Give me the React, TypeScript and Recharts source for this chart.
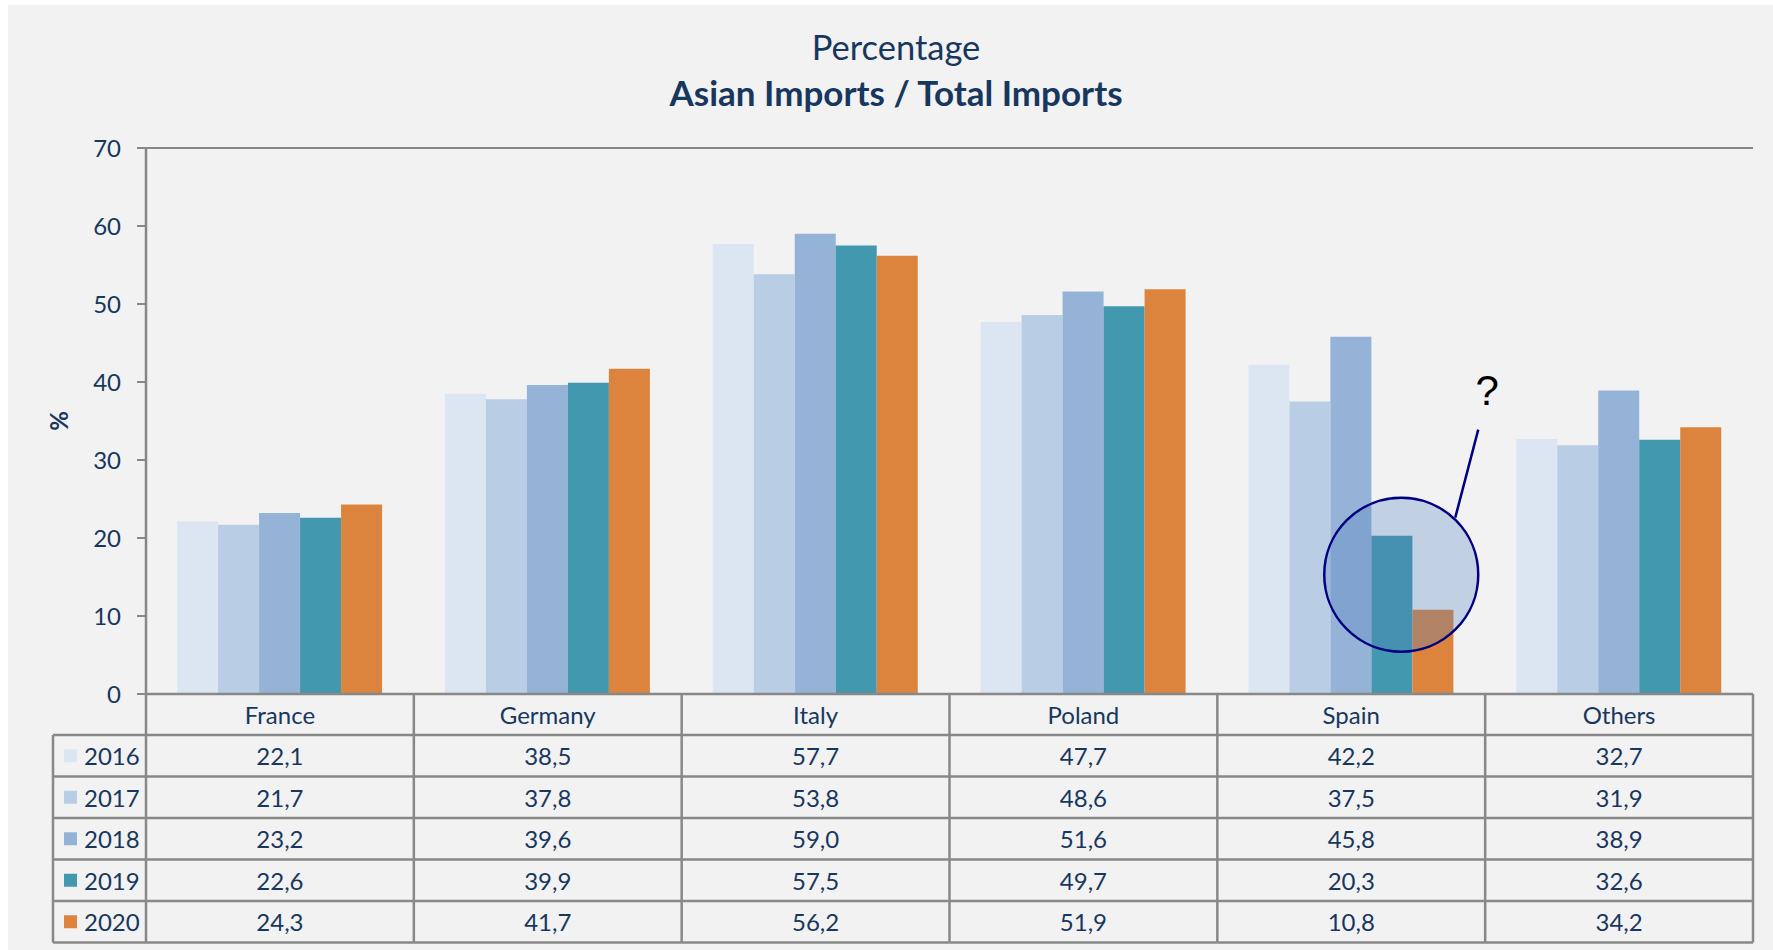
import React from 'react';
import {
  BarChart,
  Bar,
  XAxis,
  YAxis,
  CartesianGrid,
  ReferenceDot,
} from 'recharts';

// --- data ---
const categories = ['France', 'Germany', 'Italy', 'Poland', 'Spain', 'Others'];
const years = ['2016', '2017', '2018', '2019', '2020'];
const v2016 = [22.1, 38.5, 57.7, 47.7, 42.2, 32.7];
const v2017 = [21.7, 37.8, 53.8, 48.6, 37.5, 31.9];
const v2018 = [23.2, 39.6, 59.0, 51.6, 45.8, 38.9];
const v2019 = [22.6, 39.9, 57.5, 49.7, 20.3, 32.6];
const v2020 = [24.3, 41.7, 56.2, 51.9, 10.8, 34.2];
const yTicks = [0, 10, 20, 30, 40, 50, 60, 70];

const seriesValues = [v2016, v2017, v2018, v2019, v2020];
const colors = ['#dce6f2', '#b9cde5', '#95b3d7', '#4298ae', '#dc843e'];

const data = categories.map((name, i) => {
  const row: any = { name };
  years.forEach((yr, k) => {
    row[yr] = seriesValues[k][i];
  });
  return row;
});

// --- layout ---
const CHART_W = 1773;
const CHART_H = 950;
const Y_AXIS_W = 146;
const MARGIN_TOP = 148;
const MARGIN_RIGHT = 20;
const X_AXIS_H = 256;
const COL_W = (CHART_W - Y_AXIS_W - MARGIN_RIGHT) / categories.length;
const TABLE_LEFT = 53;
const HEADER_H = 41;
const ROW_H = 41.5;

const TEXT = '#17375e';
const LINE = '#888888';
const FONT = 'Lato, "Noto Sans", sans-serif';
const FS = 24;

const fmt = (v: number) => v.toFixed(1).replace('.', ',');

// x axis tick draws one column of the data table (and the legend column for the first one)
const TableColumn = (props: any) => {
  const { x, y, index } = props;
  const left = x - COL_W / 2;
  const right = x + COL_W / 2;
  const bottom = y + HEADER_H + ROW_H * years.length;
  const rowLines = years.map((_, k) => y + HEADER_H + k * ROW_H).concat([bottom]);

  return (
    <g>
      <line x1={right} y1={y} x2={right} y2={bottom} stroke={LINE} strokeWidth={2.5} />
      {rowLines.map((ly, k) => (
        <line key={k} x1={left} y1={ly} x2={right} y2={ly} stroke={LINE} strokeWidth={2.5} />
      ))}
      <text
        x={x}
        y={y + HEADER_H / 2}
        textAnchor="middle"
        dominantBaseline="central"
        fill={TEXT}
        fontSize={FS}
        fontFamily={FONT}
      >
        {categories[index]}
      </text>
      {seriesValues.map((vals, k) => (
        <text
          key={k}
          x={x}
          y={y + HEADER_H + k * ROW_H + ROW_H / 2}
          textAnchor="middle"
          dominantBaseline="central"
          fill={TEXT}
          fontSize={FS}
          fontFamily={FONT}
        >
          {fmt(vals[index])}
        </text>
      ))}
      {index === 0 && (
        <g>
          <line x1={left} y1={y} x2={left} y2={bottom} stroke={LINE} strokeWidth={2.5} />
          <line x1={TABLE_LEFT} y1={y + HEADER_H} x2={TABLE_LEFT} y2={bottom} stroke={LINE} strokeWidth={2.5} />
          {rowLines.map((ly, k) => (
            <line key={k} x1={TABLE_LEFT} y1={ly} x2={left} y2={ly} stroke={LINE} strokeWidth={2.5} />
          ))}
          {years.map((yr, k) => {
            const cy = y + HEADER_H + k * ROW_H + ROW_H / 2;
            return (
              <g key={yr}>
                <rect x={TABLE_LEFT + 11} y={cy - 6.5} width={13} height={13} fill={colors[k]} />
                <text
                  x={TABLE_LEFT + 31}
                  y={cy}
                  dominantBaseline="central"
                  fill={TEXT}
                  fontSize={FS}
                  fontFamily={FONT}
                >
                  {yr}
                </text>
              </g>
            );
          })}
        </g>
      )}
    </g>
  );
};

// the circled "?" annotation on Spain
const QuestionMark = (props: any) => {
  const { cx, cy } = props;
  const ox = cx + 50;
  return (
    <g>
      <circle cx={ox} cy={cy} r={77} fill="#4f81bd" fillOpacity={0.3} stroke="#000080" strokeWidth={2.5} />
      <line x1={ox + 54} y1={cy - 57} x2={ox + 77} y2={cy - 145} stroke="#000080" strokeWidth={2.5} />
      <text
        x={ox + 86}
        y={cy - 184}
        textAnchor="middle"
        dominantBaseline="central"
        fontSize={42}
        fontFamily='"Liberation Sans", Arial, sans-serif'
        fill="#000"
      >
        ?
      </text>
    </g>
  );
};

export default function App() {
  return (
    <div style={{ position: 'absolute', left: 0, top: 0, width: CHART_W, height: CHART_H, background: '#fff', overflow: 'hidden' }}>
      <div style={{ position: 'absolute', left: 8, top: 5, width: CHART_W - 8, height: CHART_H - 5, background: '#f2f2f2' }} />
      <div
        style={{
          position: 'absolute',
          left: 496,
          width: 800,
          top: 29,
          textAlign: 'center',
          color: TEXT,
          fontFamily: FONT,
          fontSize: 35,
          lineHeight: '36px',
        }}
      >
        <div style={{ fontSize: 34.5 }}>Percentage</div>
        <div style={{ fontWeight: 700, marginTop: 9 }}>Asian Imports / Total Imports</div>
      </div>
      <div style={{ position: 'absolute', left: 0, top: 0 }}>
        <BarChart
          width={CHART_W}
          height={CHART_H}
          data={data}
          margin={{ top: MARGIN_TOP, right: MARGIN_RIGHT, left: 0, bottom: 0 }}
          barCategoryGap="11.6%"
          barGap={0}
        >
          <CartesianGrid vertical={false} stroke={LINE} strokeWidth={2} />
          <XAxis
            dataKey="name"
            height={X_AXIS_H}
            interval={0}
            tickLine={false}
            tickSize={0}
            tickMargin={0}
            axisLine={{ stroke: LINE, strokeWidth: 2.5 }}
            tick={<TableColumn />}
          />
          <YAxis
            yAxisId="left"
            width={Y_AXIS_W}
            domain={[0, 70]}
            ticks={yTicks}
            interval={0}
            tickSize={9}
            tickMargin={16}
            axisLine={{ stroke: LINE, strokeWidth: 2.5 }}
            tickLine={{ stroke: LINE, strokeWidth: 2 }}
            tick={{ fill: TEXT, fontSize: FS, fontFamily: FONT }}
            label={{
              content: (p: any) => {
                const vb = p.viewBox || { x: 0, y: MARGIN_TOP, height: 546 };
                const lx = vb.x + 58;
                const ly = vb.y + vb.height / 2;
                return (
                  <text
                    x={lx}
                    y={ly}
                    transform={`rotate(-90, ${lx}, ${ly})`}
                    textAnchor="middle"
                    dominantBaseline="central"
                    fill={TEXT}
                    fontSize={FS}
                    fontWeight={700}
                    fontFamily={FONT}
                  >
                    %
                  </text>
                );
              },
            }}
          />
          <YAxis
            yAxisId="right"
            orientation="right"
            width={0}
            domain={[0, 70]}
            tick={false}
            tickLine={false}
            axisLine={{ stroke: LINE, strokeWidth: 2.5 }}
          />
          {years.map((yr, k) => (
            <Bar key={yr} yAxisId="left" dataKey={yr} fill={colors[k]} isAnimationActive={false} />
          ))}
          <ReferenceDot yAxisId="left" x="Spain" y={15.3} r={77} shape={<QuestionMark />} />
        </BarChart>
      </div>
    </div>
  );
}
